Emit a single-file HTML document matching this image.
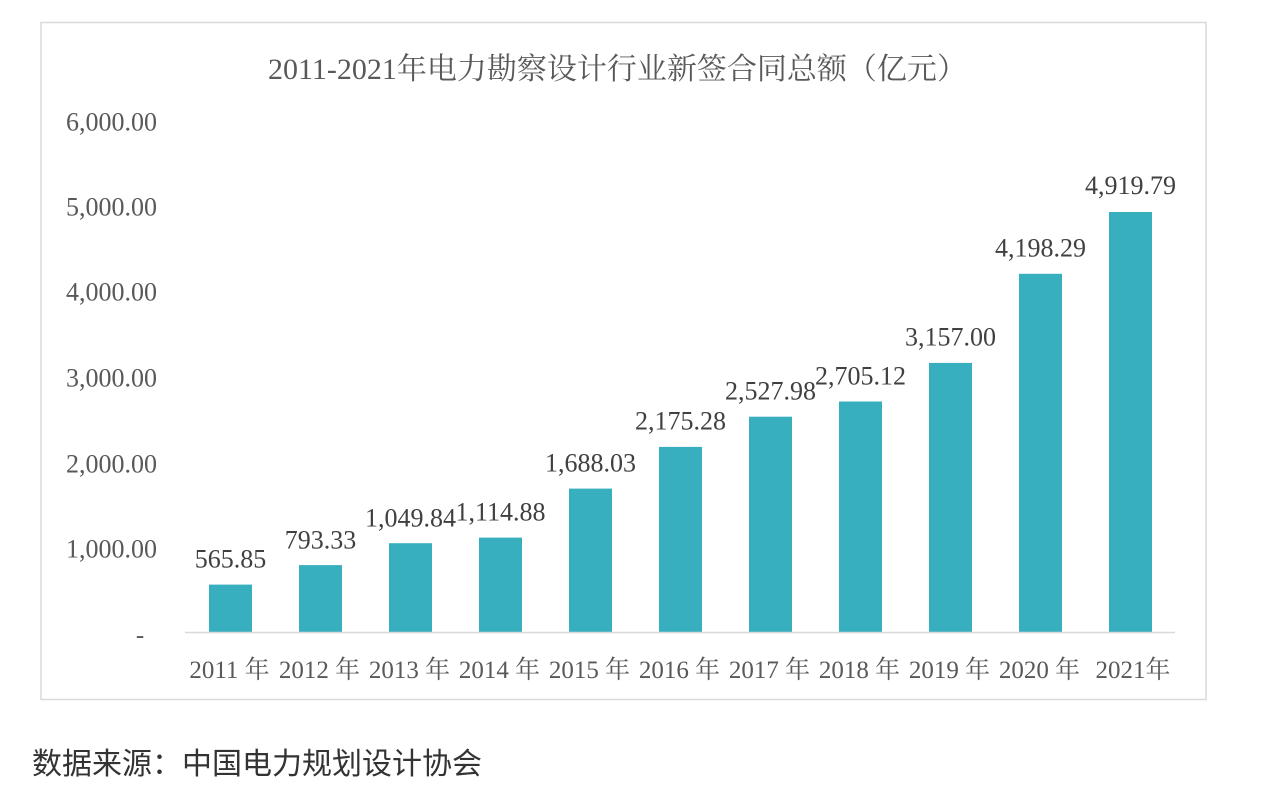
<!DOCTYPE html>
<html>
<head>
<meta charset="utf-8">
<style>
  html, body { margin:0; padding:0; background:#ffffff; }
  body { width:1288px; height:785px; overflow:hidden; position:relative; }
  svg { position:absolute; left:0; top:0; }
</style>
</head>
<body>
<svg width="1288" height="785" viewBox="0 0 1288 785" xmlns="http://www.w3.org/2000/svg">
  <!-- chart frame -->
  <rect x="41" y="22.5" width="1165" height="677" fill="#ffffff" stroke="#d9d9d9" stroke-width="1.5"/>

  <!-- title -->
  <text x="268" y="79" font-family="'Liberation Serif','Noto Serif CJK SC',serif" font-size="30" fill="#595959">2011-2021年电力勘察设计行业新签合同总额（亿元）</text>

  <!-- y axis labels -->
  <g font-family="'Liberation Serif',serif" font-size="26" fill="#595959" text-anchor="end">
    <text x="157" y="130.5">6,000.00</text>
    <text x="157" y="215.5">5,000.00</text>
    <text x="157" y="300.5">4,000.00</text>
    <text x="157" y="386.5">3,000.00</text>
    <text x="157" y="472.5">2,000.00</text>
    <text x="157" y="557.5">1,000.00</text>
  </g>
  <text x="140" y="643" font-family="'Liberation Serif',serif" font-size="25" fill="#595959" text-anchor="middle">-</text>

  <!-- bars -->
  <g fill="#38AFBE">
    <rect x="209" y="584.6" width="43" height="48.4"/>
    <rect x="299" y="565.1" width="43" height="67.9"/>
    <rect x="389" y="543.2" width="43" height="89.8"/>
    <rect x="479" y="537.6" width="43" height="95.4"/>
    <rect x="569" y="488.6" width="43" height="144.4"/>
    <rect x="659" y="446.9" width="43" height="186.1"/>
    <rect x="749" y="416.7" width="43" height="216.3"/>
    <rect x="839" y="401.5" width="43" height="231.5"/>
    <rect x="929" y="362.9" width="43" height="270.1"/>
    <rect x="1019" y="273.8" width="43" height="359.2"/>
    <rect x="1109" y="212" width="43" height="421"/>
  </g>

  <!-- x axis line -->
  <line x1="185" y1="632.5" x2="1175" y2="632.5" stroke="#d9d9d9" stroke-width="1.5"/>

  <!-- value labels -->
  <g font-family="'Liberation Serif',serif" font-size="26" fill="#404040" text-anchor="middle">
    <text x="230.5" y="567.5">565.85</text>
    <text x="320.5" y="548.5">793.33</text>
    <text x="410.5" y="526.5">1,049.84</text>
    <text x="500.5" y="520.5">1,114.88</text>
    <text x="590.5" y="471.5">1,688.03</text>
    <text x="680.5" y="429.5">2,175.28</text>
    <text x="770.5" y="399.5">2,527.98</text>
    <text x="860.5" y="384.5">2,705.12</text>
    <text x="950.5" y="345.5">3,157.00</text>
    <text x="1040.5" y="256.5">4,198.29</text>
    <text x="1130.5" y="194">4,919.79</text>
  </g>

  <!-- x axis labels -->
  <g font-family="'Liberation Serif','Noto Serif CJK SC',serif" font-size="25" fill="#595959" text-anchor="middle">
    <text x="229.5" y="678">2011 年</text>
    <text x="319.5" y="678">2012 年</text>
    <text x="409.5" y="678">2013 年</text>
    <text x="499.5" y="678">2014 年</text>
    <text x="589.5" y="678">2015 年</text>
    <text x="679.5" y="678">2016 年</text>
    <text x="769.5" y="678">2017 年</text>
    <text x="859.5" y="678">2018 年</text>
    <text x="949.5" y="678">2019 年</text>
    <text x="1039.5" y="678">2020 年</text>
    <text x="1133" y="678">2021年</text>
  </g>

  <!-- source -->
  <text x="32" y="774" font-family="'Liberation Sans','Noto Sans CJK SC',sans-serif" font-size="30" fill="#333333">数据来源：中国电力规划设计协会</text>
</svg>
</body>
</html>
